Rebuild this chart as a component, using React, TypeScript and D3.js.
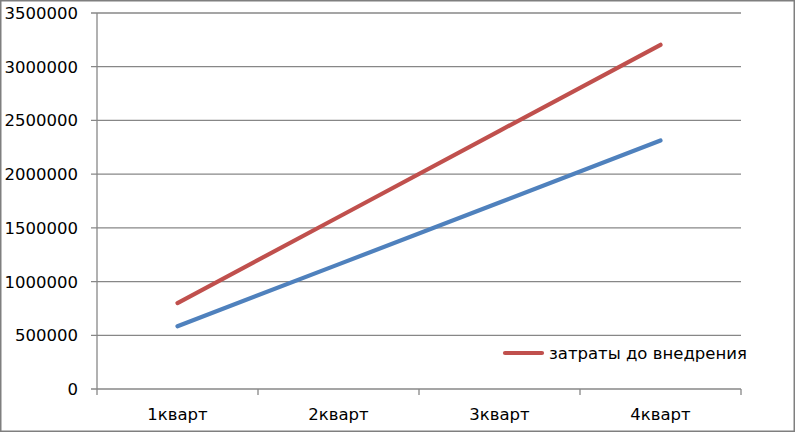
import React from 'react'
import * as d3 from 'd3'

const categories = ['1кварт', '2кварт', '3кварт', '4кварт']
const beforeCosts = [800000, 1601000, 2403000, 3204000]
const afterCosts = [584000, 1160000, 1736000, 2313000]
const yTicks = [0, 500000, 1000000, 1500000, 2000000, 2500000, 3000000, 3500000]
const legendLabel = 'затраты до внедрения'

const width = 795
const height = 432
const margin = { top: 13, right: 54, bottom: 43, left: 97 }
const font = '"DejaVu Sans", sans-serif'
const gridColor = '#878787'

const App = () => {
  const innerW = width - margin.left - margin.right
  const innerH = height - margin.top - margin.bottom

  const x = d3.scaleBand().domain(categories).range([margin.left, margin.left + innerW])
  const y = d3.scaleLinear().domain([0, 3500000]).range([margin.top + innerH, margin.top])
  const cx = (c: string) => (x(c) ?? 0) + x.bandwidth() / 2

  const line = d3
    .line<number>()
    .x((_, i) => cx(categories[i]))
    .y((d) => y(d))

  const bottom = y(0)
  const bounds = categories.map((c) => x(c) ?? 0).concat([margin.left + innerW])

  return (
    <svg
      width={width}
      height={height}
      style={{ position: 'absolute', left: 0, top: 0, background: '#fff' }}
    >
      <rect x={0.75} y={0.75} width={width - 1.5} height={height - 1.5} fill="#fff" stroke="#7f7f7f" strokeWidth={1.5} />

      {yTicks.map((t) => (
        <g key={t}>
          <line x1={margin.left - 6} x2={margin.left + innerW} y1={y(t)} y2={y(t)} stroke={gridColor} strokeWidth={1.3} />
          <text x={78} y={y(t)} dy="0.36em" textAnchor="end" fontFamily={font} fontSize={16.5} fill="#000">
            {t}
          </text>
        </g>
      ))}

      <line x1={margin.left} x2={margin.left} y1={margin.top} y2={bottom} stroke={gridColor} strokeWidth={1.3} />
      {bounds.map((b, i) => (
        <line key={i} x1={b} x2={b} y1={bottom} y2={bottom + 6} stroke={gridColor} strokeWidth={1.3} />
      ))}

      {categories.map((c) => (
        <text key={c} x={cx(c)} y={420} textAnchor="middle" fontFamily={font} fontSize={16.5} fill="#000">
          {c}
        </text>
      ))}

      <path d={line(afterCosts) ?? ''} fill="none" stroke="#4f81bd" strokeWidth={4.2} strokeLinecap="round" />
      <path d={line(beforeCosts) ?? ''} fill="none" stroke="#c0504d" strokeWidth={4.2} strokeLinecap="round" />

      <line x1={505} x2={542} y1={353} y2={353} stroke="#c0504d" strokeWidth={4.2} strokeLinecap="round" />
      <text x={549} y={353} dy="0.36em" fontFamily={font} fontSize={16.5} fill="#000">
        {legendLabel}
      </text>
    </svg>
  )
}

export default App
